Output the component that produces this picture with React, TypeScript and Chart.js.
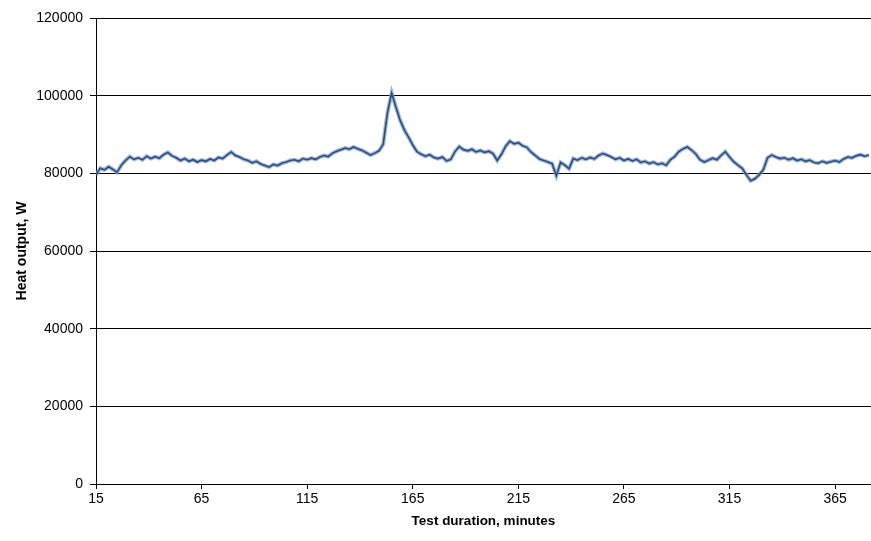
import React, { useEffect, useRef } from "react";
import { Chart, registerables } from "chart.js";

Chart.register(...registerables);

const START_MINUTE = 15;
const STEP_MINUTES = 2;
const X_MAX = 382;
const X_TICKS = [15, 65, 115, 165, 215, 265, 315, 365];
const Y_TICKS = [0, 20000, 40000, 60000, 80000, 100000, 120000];
const X_TITLE = "Test duration, minutes";
const Y_TITLE = "Heat output, W";

const HEAT_OUTPUT = [
  79600, 81300, 80900, 81700, 81000, 80300, 82100, 83300, 84300, 83600,
  84000, 83500, 84400, 83800, 84300, 83900, 84800, 85400, 84500, 84000,
  83300, 83800, 83100, 83500, 82900, 83400, 83100, 83700, 83300, 84100,
  83800, 84700, 85500, 84600, 84200, 83600, 83300, 82700, 83100, 82400,
  82000, 81600, 82300, 82000, 82600, 82900, 83300, 83500, 83100, 83800,
  83500, 83900, 83600, 84200, 84600, 84300, 85200, 85700, 86100, 86500,
  86200, 86800, 86300, 85900, 85300, 84700, 85200, 85800, 87500, 95500,
  100700, 97100, 93700, 91200, 89300, 87300, 85600, 84900, 84400, 84800,
  84100, 83800, 84200, 83200, 83600, 85600, 86900, 86100, 85800, 86200,
  85500, 85900, 85400, 85700, 85100, 83300, 84900, 87000, 88300, 87600,
  87900, 87100, 86700, 85500, 84600, 83700, 83300, 82900, 82500, 79400,
  82800, 82100, 81200, 83800, 83400, 84000, 83600, 84100, 83700, 84600,
  85100, 84700, 84200, 83600, 84000, 83300, 83700, 83200, 83600, 82800,
  83100, 82500, 82900, 82300, 82600, 82100, 83500, 84300, 85600, 86300,
  86800, 86000, 85000, 83500, 82900, 83400, 83900, 83500, 84600, 85600,
  84200, 83000, 82100, 81300, 79600, 78100, 78600, 79600, 80900, 84000,
  84700, 84200, 83800, 84000, 83500, 83900, 83300, 83600, 83100, 83400,
  82800, 82600, 83100, 82700, 83000, 83300, 82900, 83700, 84200, 84000,
  84500, 84800, 84400, 84700,
];

export default function App() {
  const canvasRef = useRef<HTMLCanvasElement | null>(null);

  useEffect(() => {
    document.body.style.margin = "0";
    const canvas = canvasRef.current;
    if (!canvas) return;
    const points = HEAT_OUTPUT.map((v, i) => ({ x: START_MINUTE + i * STEP_MINUTES, y: v }));
    const family = "'Liberation Sans', Arial, sans-serif";
    const tickFont = { family, size: 14 };
    const chart = new Chart(canvas, {
      type: "line",
      data: {
        datasets: [
          {
            data: points,
            borderColor: "#2f4c7e",
            borderWidth: 1.6,
            pointRadius: 0,
            tension: 0,
            order: 0,
          },
          {
            data: points,
            borderColor: "rgba(130,160,205,0.75)",
            borderWidth: 4,
            pointRadius: 0,
            tension: 0,
            order: 1,
          },
        ],
      },
      options: {
        animation: false,
        responsive: true,
        maintainAspectRatio: false,
        layout: { padding: { left: 0, right: 0, top: 18, bottom: 0 } },
        plugins: { legend: { display: false }, tooltip: { enabled: false } },
        scales: {
          x: {
            type: "linear",
            min: START_MINUTE,
            max: X_MAX,
            afterBuildTicks: (scale: any) => {
              scale.ticks = X_TICKS.map((v) => ({ value: v }));
            },
            afterFit: (scale: any) => {
              scale.height = 57;
            },
            grid: { display: true, drawOnChartArea: false, color: "#000", tickLength: 5, tickWidth: 1 },
            border: { display: true, color: "#000", width: 1 },
            ticks: { color: "#000", font: tickFont, padding: 2, maxRotation: 0, autoSkip: false, callback: (v: any) => String(v) },
            title: {
              display: true,
              text: X_TITLE,
              color: "#000",
              font: { family, size: 13.5, weight: "bold" },
              padding: { top: 0, bottom: 12 },
            },
          },
          y: {
            type: "linear",
            min: 0,
            max: 120000,
            afterBuildTicks: (scale: any) => {
              scale.ticks = Y_TICKS.map((v) => ({ value: v }));
            },
            afterFit: (scale: any) => {
              scale.width = 96;
            },
            grid: { color: "#000", lineWidth: 1, tickLength: 6 },
            border: { display: true, color: "#000", width: 1 },
            ticks: { color: "#000", font: tickFont, padding: 7, callback: (v: any) => String(v) },
            title: {
              display: true,
              text: Y_TITLE,
              color: "#000",
              font: { family, size: 14, weight: "bold" },
              padding: { top: 14, bottom: 0 },
            },
          },
        },
      },
    });
    return () => chart.destroy();
  }, []);

  return (
    <div style={{ width: 871, height: 541, position: "relative", background: "#fff" }}>
      <canvas ref={canvasRef} />
    </div>
  );
}
